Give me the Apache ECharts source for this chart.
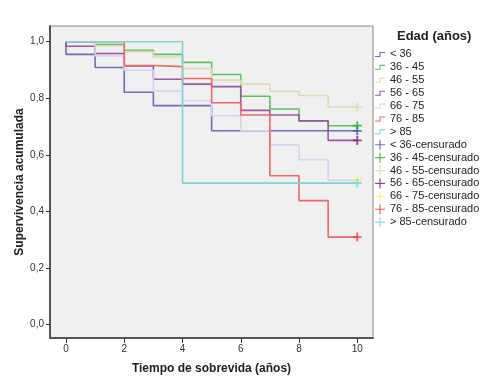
<!DOCTYPE html>
<html><head><meta charset="utf-8">
<script src="https://cdn.jsdelivr.net/npm/echarts@6/dist/echarts.min.js"></script>
<style>html,body{margin:0;padding:0;background:#fff}#c{width:500px;height:385px}</style>
</head><body><div id="c"></div>
<script>
// ---- data ----
const groups = ['< 36', '36 - 45', '46 - 55', '56 - 65', '66 - 75', '76 - 85', '> 85'];
const intervalStarts = [0, 1, 2, 3, 4, 5, 6, 7, 8, 9];
const endTime = 10;
const surv_lt36  = [0.955, 0.909, 0.821, 0.774, 0.774, 0.685, 0.685, 0.685, 0.685, 0.685];
const surv_36_45 = [1.000, 0.990, 0.970, 0.955, 0.927, 0.884, 0.807, 0.762, 0.720, 0.703];
const surv_46_55 = [1.000, 0.985, 0.965, 0.946, 0.905, 0.864, 0.850, 0.825, 0.810, 0.769];
const surv_56_65 = [0.984, 0.958, 0.914, 0.867, 0.850, 0.841, 0.757, 0.741, 0.720, 0.651];
const surv_66_75 = [1.000, 0.950, 0.899, 0.826, 0.791, 0.738, 0.685, 0.635, 0.583, 0.510];
const surv_76_85 = [1.000, 1.000, 0.916, 0.912, 0.870, 0.784, 0.741, 0.526, 0.438, 0.309];
const surv_gt85  = [1.000, 1.000, 1.000, 1.000, 0.500, 0.500, 0.500, 0.500, 0.500, 0.500];
const survAll = [surv_lt36, surv_36_45, surv_46_55, surv_56_65, surv_66_75, surv_76_85, surv_gt85];
const xTicks = [0, 2, 4, 6, 8, 10];
const yTicks = [0, 0.2, 0.4, 0.6, 0.8, 1.0];

// ---- styles ----
const lineColors   = ['#6b70b6', '#62bf62', '#dcdab0', '#9a589e', '#dcd0ee', '#ee6666', '#80d4d4'];
const censorColors = ['#3f48cc', '#22b022', '#e0d8a8', '#7a1a7a', '#f4f060', '#ff3030', '#60d8e4'];
const stepIcon = 'path://M0,4 L4.5,4 L4.5,0 L10,0 L10,1.1 L5.6,1.1 L5.6,5 L0,5 Z';
const plusIcon = 'path://M0,4.4 L10,4.4 L10,5.6 L0,5.6 Z M4.4,0 L5.6,0 L5.6,10 L4.4,10 Z';
const plusMark = 'path://M0,4 L10,4 L10,6 L0,6 Z M4,0 L6,0 L6,10 L4,10 Z';
const FONT = '"Liberation Sans", Arial, sans-serif';

function stepData(s) {
  const d = [[0, 1]];
  intervalStarts.forEach((t, i) => d.push([t, s[i]]));
  d.push([endTime, s[s.length - 1]]);
  return d;
}

const series = [];
groups.forEach((g, i) => {
  series.push({
    name: g, type: 'line', step: 'end', data: stepData(survAll[i]),
    color: lineColors[i], showSymbol: false, symbol: 'none',
    lineStyle: { width: 1.6, color: lineColors[i] }, animation: false, z: 2
  });
});
groups.forEach((g, i) => {
  series.push({
    name: g + '-censurado', type: 'scatter',
    data: [[endTime, survAll[i][survAll[i].length - 1]]],
    symbol: plusMark, symbolSize: 9, color: censorColors[i],
    itemStyle: { color: censorColors[i] }, animation: false, z: 3
  });
});

const legendData = groups.map((g, i) => ({
    name: g, icon: stepIcon,
    itemStyle: { color: lineColors[i], borderWidth: 0, borderColor: 'transparent' }
  }))
  .concat(groups.map((g, i) => ({
    name: g + '-censurado', icon: plusIcon,
    itemStyle: { color: censorColors[i], borderWidth: 0, borderColor: 'transparent' }
  })));

const fmt = v => v.toFixed(1).replace('.', ',');

const chart = echarts.init(document.getElementById('c'), null, { renderer: 'canvas' });
chart.setOption({
  animation: false,
  backgroundColor: '#ffffff',
  title: {
    text: 'Edad (años)', left: 397, top: 30, padding: 0,
    textStyle: { fontFamily: FONT, fontSize: 13, fontWeight: 'bold', color: '#222' }
  },
  legend: {
    orient: 'vertical', left: 375, top: 48, padding: 0, data: legendData,
    itemWidth: 10, itemHeight: 10, itemGap: 0, symbolKeepAspect: true,
    textStyle: { fontFamily: FONT, fontSize: 11, color: '#222', lineHeight: 12.9 },
    selectedMode: false
  },
  grid: {
    left: 50, right: 127, top: 26, bottom: 47, show: true,
    backgroundColor: '#f0f0f0', borderColor: '#888', borderWidth: 1
  },
  xAxis: {
    type: 'value', min: -0.549, max: 10.54,
    name: 'Tiempo de sobrevida (años)', nameLocation: 'middle', nameGap: 25,
    nameTextStyle: { fontFamily: FONT, fontSize: 12, fontWeight: 'bold', color: '#222' },
    axisLine: { show: true, onZero: false, lineStyle: { color: '#555', width: 2 } },
    axisTick: { show: true, customValues: xTicks, length: 5, lineStyle: { color: '#333' } },
    axisLabel: { customValues: xTicks, fontFamily: FONT, fontSize: 10, color: '#333', margin: 6 },
    splitLine: { show: false }
  },
  yAxis: {
    type: 'value', min: -0.0477, max: 1.0555,
    name: 'Supervivencia acumulada', nameLocation: 'middle', nameGap: 24, nameMoveOverlap: false,
    nameTextStyle: { fontFamily: FONT, fontSize: 12, fontWeight: 'bold', color: '#222' },
    axisLine: { show: true, onZero: false, lineStyle: { color: '#555', width: 2 } },
    axisTick: { show: true, customValues: yTicks, length: 4, lineStyle: { color: '#333' } },
    axisLabel: { customValues: yTicks, fontFamily: FONT, fontSize: 10, color: '#333', margin: 6, formatter: fmt },
    splitLine: { show: false }
  },
  series: series
});
</script>
</body></html>
